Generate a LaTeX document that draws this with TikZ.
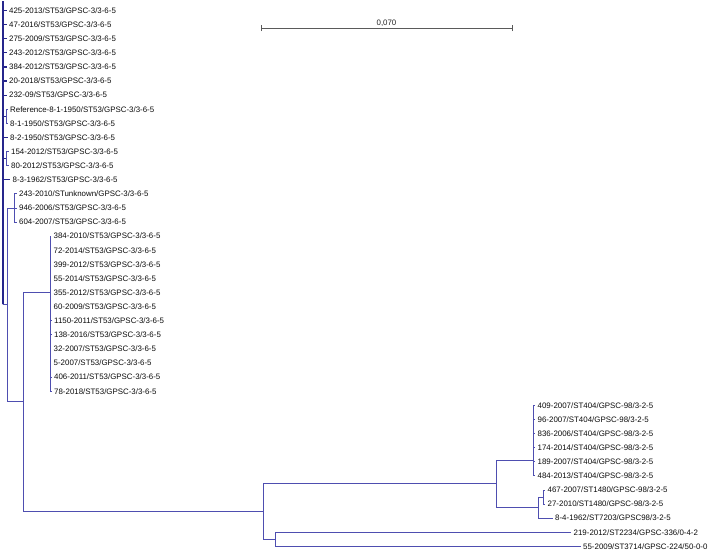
\documentclass[tikz,border=0pt]{standalone}
\usepackage{fontspec}
\setmainfont{Liberation Sans}
\usetikzlibrary{calc}
\definecolor{tree}{RGB}{78,78,176}
\definecolor{treedark}{RGB}{38,38,140}
\definecolor{scalegray}{RGB}{90,90,90}
\begin{document}
\begin{tikzpicture}[x=1pt,y=-1pt,
  br/.style={draw=tree,line width=0.75pt},
  brd/.style={draw=treedark,line width=1.2pt},
  lbl/.style={anchor=west,inner sep=0pt,font=\fontsize{7.9}{9}\selectfont,text=black!95},
  tk/.style={xshift=-2.5pt}]
\useasboundingbox[fill=white] (0,0) rectangle (709,550);

% ---- internal nodes ----
\coordinate (R)   at (3,304);
\coordinate (RF)  at (6,116.3);
\coordinate (CF)  at (6,158.5);
\coordinate (B)   at (7,304);
\coordinate (K)   at (14,207.9);
\coordinate (C)   at (23,401);
\coordinate (D)   at (50,292);
\coordinate (E)   at (263,511);
\coordinate (F)   at (496,483.7);
\coordinate (H)   at (533,460);
\coordinate (I)   at (538,507.5);
\coordinate (J)   at (543.5,497);
\coordinate (G)   at (275,539.25);

% ---- leaves ----
\node[lbl] (t0)  at (9,10.5)  {425-2013/ST53/GPSC-3/3-6-5};
\node[lbl] (t1)  at (9,24.6)  {47-2016/ST53/GPSC-3/3-6-5};
\node[lbl] (t2)  at (9,38.7)  {275-2009/ST53/GPSC-3/3-6-5};
\node[lbl] (t3)  at (9,52.8)  {243-2012/ST53/GPSC-3/3-6-5};
\node[lbl] (t4)  at (9,66.9)  {384-2012/ST53/GPSC-3/3-6-5};
\node[lbl] (t5)  at (9,81.0)  {20-2018/ST53/GPSC-3/3-6-5};
\node[lbl] (t6)  at (9,95.1)  {232-09/ST53/GPSC-3/3-6-5};
\node[lbl] (t7)  at (10,109.2) {Reference-8-1-1950/ST53/GPSC-3/3-6-5};
\node[lbl] (t8)  at (10,123.3) {8-1-1950/ST53/GPSC-3/3-6-5};
\node[lbl] (t9)  at (10,137.4) {8-2-1950/ST53/GPSC-3/3-6-5};
\node[lbl] (t10) at (11,151.5) {154-2012/ST53/GPSC-3/3-6-5};
\node[lbl] (t11) at (11,165.6) {80-2012/ST53/GPSC-3/3-6-5};
\node[lbl] (t12) at (12.5,179.7) {8-3-1962/ST53/GPSC-3/3-6-5};
\node[lbl] (t13) at (19,193.8) {243-2010/STunknown/GPSC-3/3-6-5};
\node[lbl] (t14) at (19,207.9) {946-2006/ST53/GPSC-3/3-6-5};
\node[lbl] (t15) at (19,222.0) {604-2007/ST53/GPSC-3/3-6-5};
\node[lbl] (t16) at (53.5,236.1) {384-2010/ST53/GPSC-3/3-6-5};
\node[lbl] (t17) at (53.5,250.2) {72-2014/ST53/GPSC-3/3-6-5};
\node[lbl] (t18) at (53.5,264.3) {399-2012/ST53/GPSC-3/3-6-5};
\node[lbl] (t19) at (53.5,278.4) {55-2014/ST53/GPSC-3/3-6-5};
\node[lbl] (t20) at (53.5,292.5) {355-2012/ST53/GPSC-3/3-6-5};
\node[lbl] (t21) at (53.5,306.6) {60-2009/ST53/GPSC-3/3-6-5};
\node[lbl] (t22) at (54,320.7) {1150-2011/ST53/GPSC-3/3-6-5};
\node[lbl] (t23) at (54,334.8) {138-2016/ST53/GPSC-3/3-6-5};
\node[lbl] (t24) at (53.5,348.9) {32-2007/ST53/GPSC-3/3-6-5};
\node[lbl] (t25) at (53.5,363.0) {5-2007/ST53/GPSC-3/3-6-5};
\node[lbl] (t26) at (54,377.1) {406-2011/ST53/GPSC-3/3-6-5};
\node[lbl] (t27) at (54,391.2) {78-2018/ST53/GPSC-3/3-6-5};
\node[lbl] (t28) at (537.5,405.3) {409-2007/ST404/GPSC-98/3-2-5};
\node[lbl] (t29) at (537.5,419.4) {96-2007/ST404/GPSC-98/3-2-5};
\node[lbl] (t30) at (537.5,433.5) {836-2006/ST404/GPSC-98/3-2-5};
\node[lbl] (t31) at (537.5,447.6) {174-2014/ST404/GPSC-98/3-2-5};
\node[lbl] (t32) at (537.5,461.7) {189-2007/ST404/GPSC-98/3-2-5};
\node[lbl] (t33) at (537.5,475.8) {484-2013/ST404/GPSC-98/3-2-5};
\node[lbl] (t34) at (547.5,489.9) {467-2007/ST1480/GPSC-98/3-2-5};
\node[lbl] (t35) at (547.5,504.0) {27-2010/ST1480/GPSC-98/3-2-5};
\node[lbl] (t36) at (555,518.1) {8-4-1962/ST7203/GPSC98/3-2-5};
\node[lbl] (t37) at (573.5,532.2) {219-2012/ST2234/GPSC-336/0-4-2};
\node[lbl] (t38) at (583,546.3) {55-2009/ST3714/GPSC-224/50-0-0};

% ---- branches ----
\coordinate (Rtop) at (3,1);
\draw[brd] (R) -- (Rtop);
\foreach \t in {t0,t1,t2,t3,t4,t5,t6,t9,t12}
  \draw[brd] (R) |- ([tk]\t.west);
\draw[brd] (R) |- (RF);
\draw[brd] (R) |- (CF);
\draw[br] (R) |- (B);
\foreach \t in {t7,t8} \draw[br] (RF) |- ([tk]\t.west);
\foreach \t in {t10,t11} \draw[br] (CF) |- ([tk]\t.west);
\draw[br] (B) |- (K);
\draw[br] (B) |- (C);
\foreach \t in {t13,t14,t15} \draw[br] (K) |- ([tk]\t.west);
\draw[br] (C) |- (D);
\draw[br] (C) |- (E);
\foreach \t in {t16,t17,t18,t19,t20,t21,t22,t23,t24,t25,t26,t27}
  \draw[br] (D) |- ([tk]\t.west);
\draw[br] (E) |- (F);
\draw[br] (E) |- (G);
\draw[br] (F) |- (H);
\draw[br] (F) |- (I);
\foreach \t in {t28,t29,t30,t31,t32,t33} \draw[br] (H) |- ([tk]\t.west);
\draw[br] (I) |- (J);
\draw[br] (I) |- ([tk]t36.west);
\foreach \t in {t34,t35} \draw[br] (J) |- ([tk]\t.west);
\foreach \t in {t37,t38} \draw[br] (G) |- ([tk]\t.west);

% ---- scale bar ----
\coordinate (s1) at (261,28);
\coordinate (s2) at (512,28);
\draw[scalegray,line width=0.8pt] (s1) -- (s2);
\draw[scalegray,line width=0.8pt] ([yshift=-3pt]s1) -- ([yshift=3pt]s1);
\draw[scalegray,line width=0.8pt] ([yshift=-3pt]s2) -- ([yshift=3pt]s2);
\node[lbl,anchor=south,text=black!85] (sl) at ($(s1)!0.5!(s2)+(0,-1.5)$) {0,070};
\end{tikzpicture}
\end{document}
